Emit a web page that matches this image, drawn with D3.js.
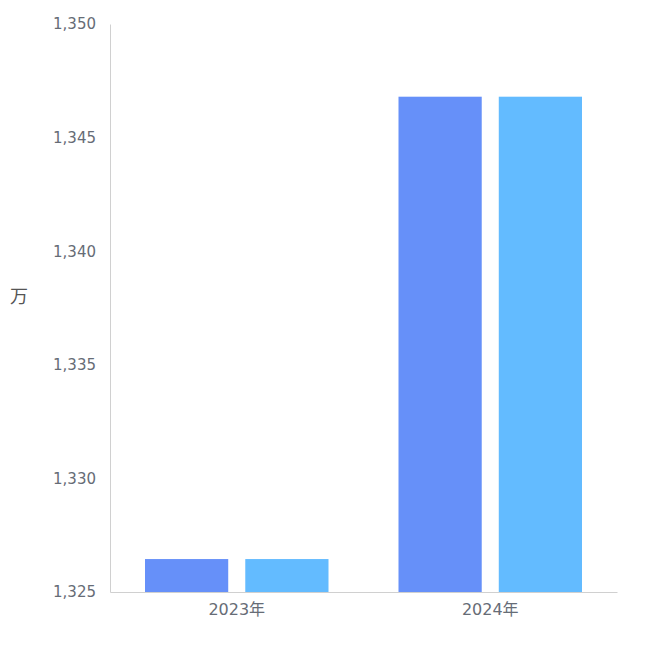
<!DOCTYPE html>
<html>
<head>
<meta charset="utf-8">
<script src="https://cdn.jsdelivr.net/npm/d3@7"></script>
<style>
  body { margin: 0; background: #fff; }
  .tick text { font-family: "DejaVu Sans", "Noto Sans CJK SC", sans-serif; font-size: 15px; fill: #666c76; }
  .x-axis .tick text { font-size: 16px; }
</style>
</head>
<body>
<svg width="650" height="650"></svg>
<script>
var categories = ["2023年", "2024年"];
var seriesNames = ["a", "b"];
var seriesA = [1326.45, 1346.8];
var seriesB = [1326.45, 1346.8];
var yTicks = [1325, 1330, 1335, 1340, 1345, 1350];
var colors = ["#6690f9", "#63bbff"];

var svg = d3.select("svg"),
    margin = {top: 24, right: 33, bottom: 58, left: 110},
    width = +svg.attr("width") - margin.left - margin.right,
    height = +svg.attr("height") - margin.top - margin.bottom,
    g = svg.append("g").attr("transform", "translate(" + margin.left + "," + margin.top + ")");

var data = categories.map(function(c, i) {
    return {cat: c, values: [seriesA[i], seriesB[i]]};
});

var x0 = d3.scaleBand()
    .domain(categories)
    .range([0, width]);

var x1 = d3.scaleBand()
    .domain(seriesNames)
    .range([35, x0.bandwidth() - 35])
    .paddingInner(0.17);

var y = d3.scaleLinear()
    .domain([1325, 1350])
    .range([height, 0]);

var yAxis = g.append("g")
    .call(d3.axisLeft(y).tickValues(yTicks).tickSize(0).tickPadding(14).tickFormat(d3.format(",")));
yAxis.select(".domain").attr("stroke", "#d0d0d0");

var xAxis = g.append("g")
    .attr("class", "x-axis")
    .attr("transform", "translate(0," + height + ")")
    .call(d3.axisBottom(x0).tickSize(0).tickPadding(12));
xAxis.select(".domain").attr("stroke", "#d0d0d0");

g.append("g")
  .selectAll("g")
  .data(data)
  .enter().append("g")
    .attr("transform", function(d) { return "translate(" + x0(d.cat) + ",0)"; })
  .selectAll("rect")
  .data(function(d) { return d.values.map(function(v, i) { return {key: seriesNames[i], value: v, i: i}; }); })
  .enter().append("rect")
    .attr("x", function(d) { return x1(d.key); })
    .attr("y", function(d) { return y(d.value); })
    .attr("width", x1.bandwidth())
    .attr("height", function(d) { return height - y(d.value); })
    .attr("fill", function(d) { return colors[d.i]; });

svg.append("text")
    .attr("x", 19)
    .attr("y", 298)
    .attr("text-anchor", "middle")
    .attr("dominant-baseline", "middle")
    .style("font-family", "'Noto Sans CJK SC', sans-serif")
    .style("font-size", "18px")
    .style("fill", "#555")
    .text("万");
</script>
</body>
</html>
